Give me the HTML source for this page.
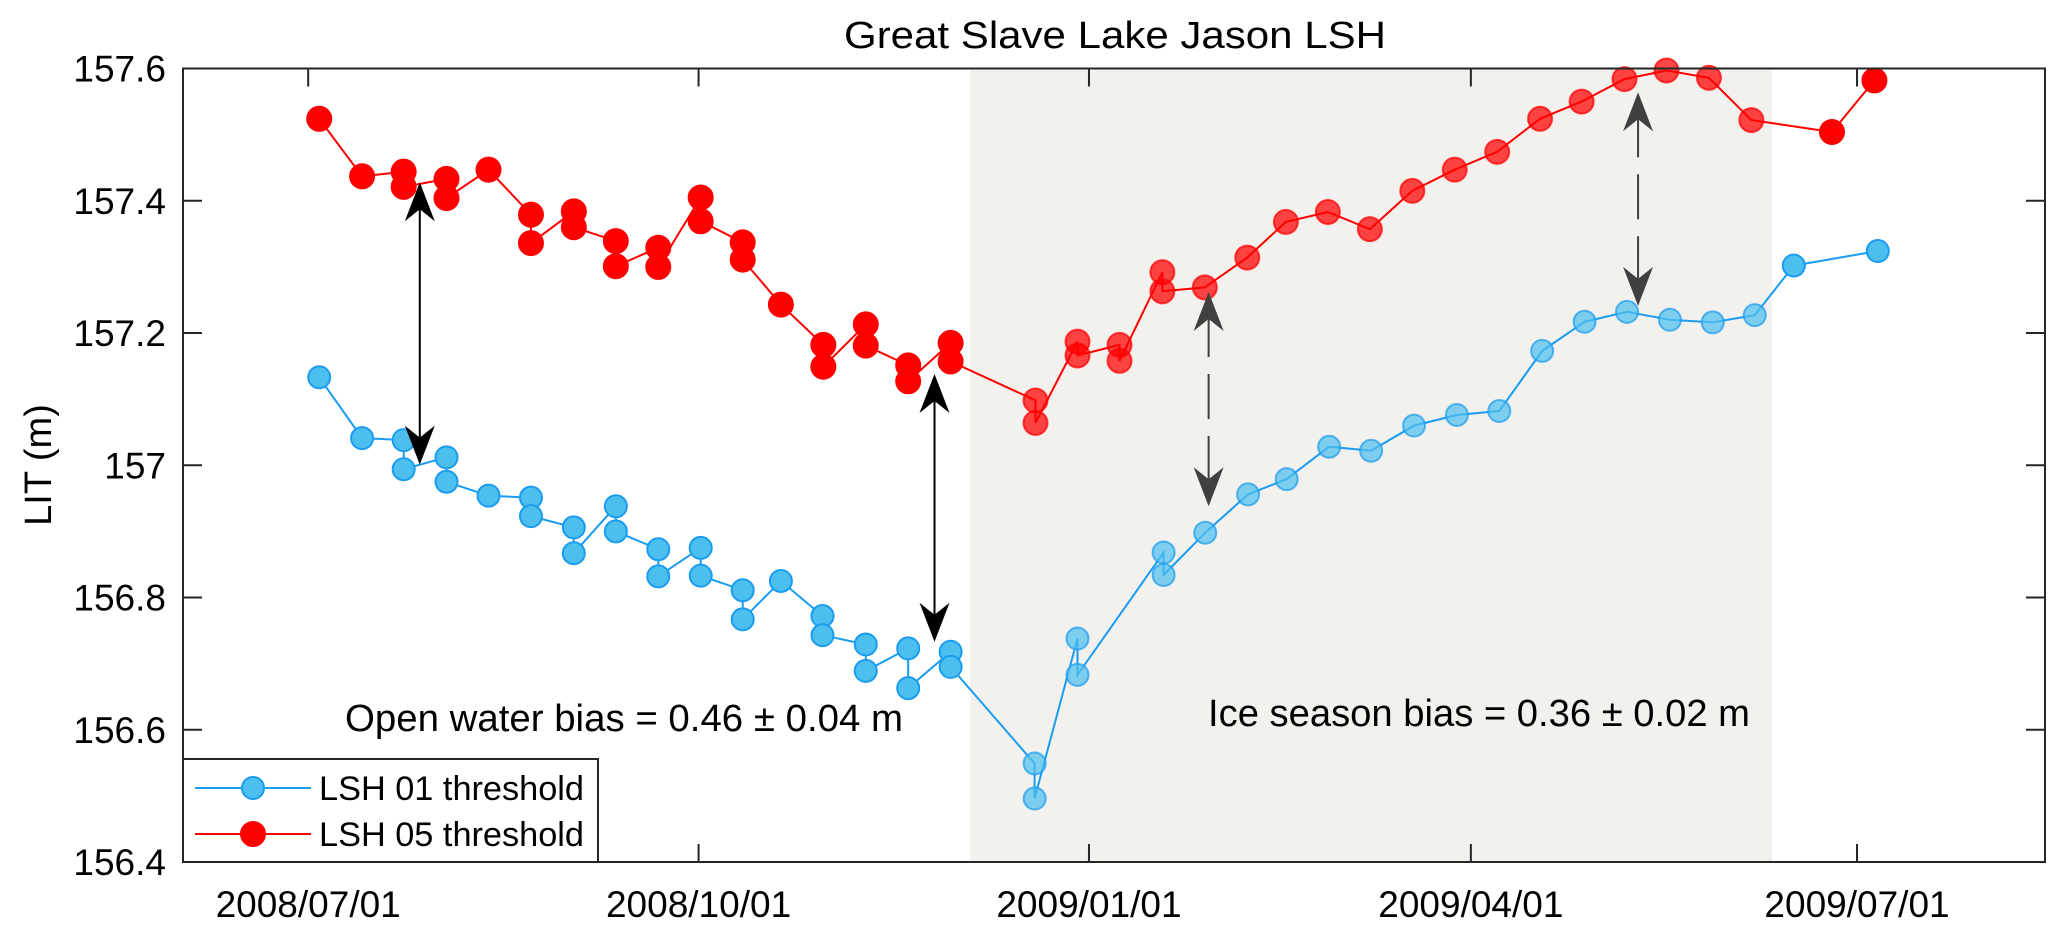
<!DOCTYPE html>
<html><head><meta charset="utf-8"><title>Great Slave Lake Jason LSH</title>
<style>html,body{margin:0;padding:0;background:#fff}svg{display:block}text{font-family:"Liberation Sans",Arial,sans-serif;fill:#000}</style>
</head><body>
<svg id="chart" width="2067" height="936" viewBox="0 0 2067 936" xmlns="http://www.w3.org/2000/svg">
<rect x="0" y="0" width="2067" height="936" fill="#fff"/>
<g id="plot"></g>
</svg>
<script>
// days since 2008/07/01
const redDays=[2.6,12.7,22.5,22.5,32.6,32.6,42.5,52.5,52.5,62.6,62.6,72.5,72.5,82.5,82.5,92.5,92.5,102.4,102.4,111.4,121.4,121.4,131.4,131.4,141.4,141.4,151.4,151.4,171.4,171.4,181.3,181.3,191.2,191.2,201.3,201.3,211.3,221.3,230.4,240.3,250.2,260.2,270.2,280.2,290.3,300.1,310.2,320.1,330.1,340.1,359.1,369.1];
const redValues=[157.524,157.437,157.444,157.421,157.433,157.404,157.447,157.379,157.336,157.384,157.360,157.339,157.301,157.329,157.300,157.405,157.369,157.337,157.311,157.243,157.182,157.149,157.213,157.181,157.151,157.127,157.185,157.157,157.098,157.064,157.187,157.166,157.182,157.158,157.292,157.263,157.269,157.314,157.368,157.383,157.357,157.415,157.447,157.474,157.524,157.550,157.584,157.597,157.586,157.522,157.504,157.582];
const blueDays=[2.6,12.7,22.5,22.5,32.6,32.6,42.5,52.5,52.5,62.6,62.6,72.5,72.5,82.5,82.5,92.5,92.5,102.4,102.4,111.4,121.2,121.2,131.4,131.4,141.4,141.4,151.4,151.4,171.2,171.2,181.3,181.3,201.6,201.6,211.4,221.5,230.6,240.6,250.5,260.6,270.7,280.7,290.8,300.8,310.8,320.9,331.0,340.9,350.1,369.9];
const blueValues=[157.133,157.041,157.038,156.994,157.012,156.975,156.954,156.951,156.923,156.906,156.867,156.938,156.900,156.873,156.832,156.875,156.833,156.811,156.767,156.825,156.772,156.743,156.729,156.689,156.723,156.663,156.718,156.695,156.549,156.496,156.738,156.683,156.868,156.834,156.898,156.956,156.979,157.028,157.022,157.060,157.076,157.082,157.173,157.217,157.232,157.220,157.216,157.227,157.302,157.324];
const yTicks=[156.4,156.6,156.8,157,157.2,157.4,157.6];
const yTickLabels=["156.4","156.6","156.8","157","157.2","157.4","157.6"];
const xTickDays=[0,92,184,274,365];
const xTickLabels=["2008/07/01","2008/10/01","2009/01/01","2009/04/01","2009/07/01"];
const iceSeason=[156,345];
const solidArrows=[[26.3,157.428,157.001],[147.6,157.138,156.733]];
const dashedArrows=[[212.2,157.262,156.938],[313.4,157.564,157.241]];

const L=183,R=2045,T=68.5,B=862;
const X0=-29.5,X1=409.3,Y0=156.4,Y1=157.6;
const xs=d=>L+(d-X0)/(X1-X0)*(R-L);
const ys=v=>B-(v-Y0)/(Y1-Y0)*(B-T);
const NS="http://www.w3.org/2000/svg";
const g=document.getElementById('plot');
function mk(tag,attrs,parent){const e=document.createElementNS(NS,tag);for(const k in attrs)e.setAttribute(k,attrs[k]);(parent||g).appendChild(e);return e;}

// shade
let sh=mk('rect',{x:xs(iceSeason[0]),y:T,width:xs(iceSeason[1])-xs(iceSeason[0]),height:B-T,fill:'#f2f1ee'});



function series(days,vals,lineCol,fill,edge,r,name){
  const grp=mk('g',{});
  
  
  let d='';days.forEach((t,i)=>{d+=(i?'L':'M')+xs(t).toFixed(1)+' '+ys(vals[i]).toFixed(1);});
  const p=mk('path',{d:d,fill:'none',stroke:lineCol,'stroke-width':2},grp);
  
  
  days.forEach((t,i)=>{
    const inIce=t>=iceSeason[0]&&t<=iceSeason[1];
    const c=mk('circle',{cx:xs(t),cy:ys(vals[i]),r:r,fill:fill,stroke:edge,'stroke-width':2,'fill-opacity':inIce?0.72:1,'stroke-opacity':inIce?0.72:1},grp);
    
    
  });
}
series(blueDays,blueValues,'#1a9cf0','#4dbfee','#1a9cf0',11,'lsh01-series');
series(redDays,redValues,'#ff0000','#ff0000','#ff0000',12,'lsh05-series');

function arrowHead(x,y,dir,col,parent){
  // dir: -1 pointing up, 1 pointing down
  const len=39,hw=15,notch=27;
  const pts=[[x,y],[x-hw,y-dir*len],[x,y-dir*notch],[x+hw,y-dir*len]];
  mk('polygon',{points:pts.map(p=>p.join(',')).join(' '),fill:col},parent);
}
solidArrows.forEach(a=>{
  const grp=mk('g',{});
  
  
  const x=xs(a[0]),y1=ys(a[1]),y2=ys(a[2]);
  mk('line',{x1:x,y1:y1+20,x2:x,y2:y2-20,stroke:'#000','stroke-width':2},grp);
  arrowHead(x,y1,-1,'#000',grp);arrowHead(x,y2,1,'#000',grp);
});
dashedArrows.forEach(a=>{
  const grp=mk('g',{});
  
  
  const x=xs(a[0]),y1=ys(a[1]),y2=ys(a[2]);
  mk('line',{x1:x,y1:y1+20,x2:x,y2:y2-20,stroke:'#404040','stroke-width':2,'stroke-dasharray':'45 17'},grp);
  arrowHead(x,y1,-1,'#404040',grp);arrowHead(x,y2,1,'#404040',grp);
});

// axes frame
const fr=mk('rect',{x:L,y:T,width:R-L,height:B-T,fill:'none',stroke:'#262626','stroke-width':2});


yTicks.forEach((v,i)=>{
  const y=ys(v);
  const t1=mk('line',{x1:L,y1:y,x2:L+19,y2:y,stroke:'#262626','stroke-width':2});
  
  
  mk('line',{x1:R,y1:y,x2:R-19,y2:y,stroke:'#262626','stroke-width':2});
  const tx=mk('text',{x:166,y:y+13,'text-anchor':'end','font-size':37,fill:'#262626'});
  tx.textContent=yTickLabels[i];
  
  
});
xTickDays.forEach((d,i)=>{
  const x=xs(d);
  const t1=mk('line',{x1:x,y1:B,x2:x,y2:B-18,stroke:'#262626','stroke-width':2});
  
  
  mk('line',{x1:x,y1:T,x2:x,y2:T+18,stroke:'#262626','stroke-width':2});
  const tx=mk('text',{x:x,y:917,'text-anchor':'middle','font-size':37,fill:'#262626'});
  tx.textContent=xTickLabels[i];
  
  
});

// legend
const lg=mk('g',{});


mk('rect',{x:L,y:759,width:415,height:B-759,fill:'#fff',stroke:'#262626','stroke-width':2},lg);
[[788,'#1a9cf0','#4dbfee',11,'LSH 01 threshold'],[834,'#ff0000','#ff0000',12,'LSH 05 threshold']].forEach(e=>{
  const eg=mk('g',{},lg);
  
  
  mk('line',{x1:195,y1:e[0],x2:311,y2:e[0],stroke:e[1],'stroke-width':2},eg);
  mk('circle',{cx:253,cy:e[0],r:e[3],fill:e[2],stroke:e[1],'stroke-width':2},eg);
  const t=mk('text',{x:319,y:e[0]+12,'font-size':34,textLength:265,lengthAdjust:'spacingAndGlyphs'},eg);
  t.textContent=e[4];
});
</script>
<svg style="position:absolute;left:0;top:0" width="2067" height="936" xmlns="http://www.w3.org/2000/svg">
<text x="844" y="48" font-size="38" textLength="542" lengthAdjust="spacingAndGlyphs">Great Slave Lake Jason LSH</text>
<text transform="translate(51,465) rotate(-90)" text-anchor="middle" font-size="38" fill="#262626">LIT (m)</text>
<text x="345" y="731" font-size="38" textLength="558" lengthAdjust="spacingAndGlyphs">Open water bias = 0.46 ± 0.04 m</text>
<text x="1208" y="726" font-size="38" textLength="542" lengthAdjust="spacingAndGlyphs">Ice season bias = 0.36 ± 0.02 m</text>
</svg>
</body></html>
